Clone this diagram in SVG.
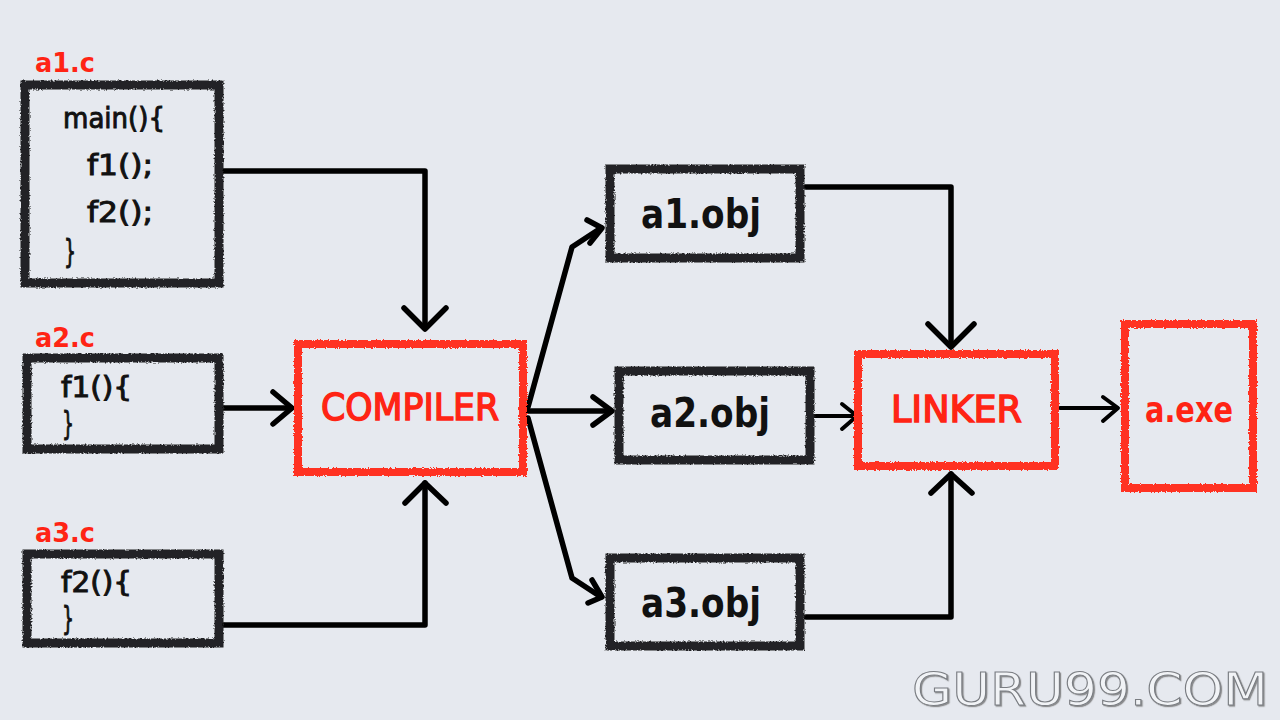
<svg xmlns="http://www.w3.org/2000/svg" width="1280" height="720" viewBox="0 0 1280 720">
  <defs>
    <filter id="rough" x="-5%" y="-5%" width="110%" height="110%">
      <feTurbulence type="fractalNoise" baseFrequency="0.6" numOctaves="2" seed="3" result="n"/>
      <feDisplacementMap in="SourceGraphic" in2="n" scale="3.5" xChannelSelector="R" yChannelSelector="G"/>
    </filter>
    <filter id="emboss" x="-5%" y="-20%" width="110%" height="140%">
      <feDropShadow dx="1.2" dy="1.2" stdDeviation="0.7" flood-color="#666" flood-opacity="0.7"/>
    </filter>
  </defs>
  <style>
    .bg { fill: #e6e9ef; }
    .bbox { fill: none; stroke: #222326; stroke-width: 9; stroke-linejoin: miter; }
    .rbox { fill: none; stroke: #ff3322; stroke-width: 8; stroke-linejoin: miter; }
    .code { font-family: "DejaVu Sans Condensed", "DejaVu Sans", sans-serif; font-size: 29px; fill: #111; stroke: #111; stroke-width: 0.9; }
    .brace { font-family: "DejaVu Sans Condensed", "DejaVu Sans", sans-serif; font-size: 32px; fill: #111; stroke: #111; stroke-width: 0.9; }
    .fname { font-family: "DejaVu Sans Condensed", "DejaVu Sans", sans-serif; font-size: 27px; font-weight: bold; fill: #ff2414; }
    .obj { font-family: "DejaVu Sans Condensed", "DejaVu Sans", sans-serif; font-size: 40px; font-weight: bold; fill: #111; }
    .tool { font-family: "DejaVu Sans Condensed", "DejaVu Sans", sans-serif; font-size: 38px; fill: #ff2414; stroke: #ff2414; stroke-width: 1.4; }
    .exe { font-family: "DejaVu Sans", sans-serif; font-size: 36px; font-weight: bold; fill: #ff2414; }
    .wm { font-family: "DejaVu Sans", sans-serif; font-size: 45px; fill: #f1f3f6; stroke: #7a7d82; stroke-width: 1; }
    .conn path { fill: none; stroke: #000; stroke-width: 5.5; stroke-linecap: round; stroke-linejoin: round; }
    .conn path.thin { stroke-width: 4; }
  </style>

  <rect class="bg" x="0" y="0" width="1280" height="720"/>

  <g id="connectors" class="conn">
    <!-- a1.c -> COMPILER -->
    <path d="M222 171 H425 V328"/>
    <path d="M404 308 L425 329 L446 308"/>
    <!-- a2.c -> COMPILER -->
    <path d="M222 408 H291"/>
    <path d="M273 392 L292 408 L273 424"/>
    <!-- a3.c -> COMPILER -->
    <path d="M222 625 H425 V483"/>
    <path d="M405 503 L425 483 L446 503"/>
    <!-- COMPILER -> a1.obj -->
    <path d="M528 407 L572 247 L601 228"/>
    <path d="M587 220 L602 228 L590 243"/>
    <!-- COMPILER -> a2.obj -->
    <path d="M528 411 H611"/>
    <path d="M593 397 L612 411 L593 425"/>
    <!-- COMPILER -> a3.obj -->
    <path d="M528 418 L572 578 L601 597"/>
    <path d="M592 580 L602 597 L588 603"/>
    <!-- a1.obj -> LINKER -->
    <path d="M806 187 H951 V346"/>
    <path d="M928 324 L951 347 L974 324"/>
    <!-- a2.obj -> LINKER -->
    <path class="thin" d="M812 416 H856"/>
    <path class="thin" d="M842 404 L857 416 L842 429"/>
    <!-- a3.obj -> LINKER -->
    <path d="M806 617 H951 V474"/>
    <path d="M931 493 L951 474 L972 493"/>
    <!-- LINKER -> a.exe -->
    <path class="thin" d="M1060 408 H1117"/>
    <path class="thin" d="M1103 397 L1118 408 L1103 421"/>
  </g>

  <g id="a1c">
    <text class="fname" x="35" y="72" textLength="60" lengthAdjust="spacingAndGlyphs">a1.c</text>
    <rect class="bbox" filter="url(#rough)" x="25" y="85" width="194" height="198"/>
    <text class="code" x="63" y="128" textLength="102" lengthAdjust="spacingAndGlyphs">main(){</text>
    <text class="code" x="87" y="175" textLength="66" lengthAdjust="spacingAndGlyphs">f1();</text>
    <text class="code" x="87" y="222" textLength="66" lengthAdjust="spacingAndGlyphs">f2();</text>
    <text class="brace" x="64" y="262" textLength="12" lengthAdjust="spacingAndGlyphs">}</text>
  </g>

  <g id="a2c">
    <text class="fname" x="35" y="347" textLength="60" lengthAdjust="spacingAndGlyphs">a2.c</text>
    <rect class="bbox" filter="url(#rough)" x="27" y="358" width="192" height="91"/>
    <text class="code" x="61" y="397" textLength="71" lengthAdjust="spacingAndGlyphs">f1(){</text>
    <text class="brace" x="62" y="434" textLength="12" lengthAdjust="spacingAndGlyphs">}</text>
  </g>

  <g id="a3c">
    <text class="fname" x="35" y="542" textLength="60" lengthAdjust="spacingAndGlyphs">a3.c</text>
    <rect class="bbox" filter="url(#rough)" x="27" y="554" width="192" height="89"/>
    <text class="code" x="61" y="592" textLength="71" lengthAdjust="spacingAndGlyphs">f2(){</text>
    <text class="brace" x="62" y="629" textLength="12" lengthAdjust="spacingAndGlyphs">}</text>
  </g>

  <g id="compiler">
    <rect class="rbox" filter="url(#rough)" x="298" y="344" width="225" height="128"/>
    <text class="tool" x="321" y="420" textLength="178" lengthAdjust="spacingAndGlyphs">COMPILER</text>
  </g>

  <g id="a1obj">
    <rect class="bbox" filter="url(#rough)" x="610" y="169" width="190" height="89"/>
    <text class="obj" x="641" y="228" textLength="120" lengthAdjust="spacingAndGlyphs">a1.obj</text>
  </g>

  <g id="a2obj">
    <rect class="bbox" filter="url(#rough)" x="619" y="371" width="191" height="89"/>
    <text class="obj" x="650" y="427" textLength="120" lengthAdjust="spacingAndGlyphs">a2.obj</text>
  </g>

  <g id="a3obj">
    <rect class="bbox" filter="url(#rough)" x="610" y="558" width="190" height="88"/>
    <text class="obj" x="641" y="617" textLength="120" lengthAdjust="spacingAndGlyphs">a3.obj</text>
  </g>

  <g id="linker">
    <rect class="rbox" filter="url(#rough)" x="858" y="354" width="197" height="112"/>
    <text class="tool" x="891" y="422" textLength="131" lengthAdjust="spacingAndGlyphs">LINKER</text>
  </g>

  <g id="aexe">
    <rect class="rbox" filter="url(#rough)" x="1125" y="324" width="128" height="164"/>
    <text class="exe" x="1145" y="422" textLength="88" lengthAdjust="spacingAndGlyphs">a.exe</text>
  </g>

  <text class="wm" filter="url(#emboss)" x="912" y="705" textLength="356" lengthAdjust="spacingAndGlyphs">GURU99.COM</text>
</svg>
